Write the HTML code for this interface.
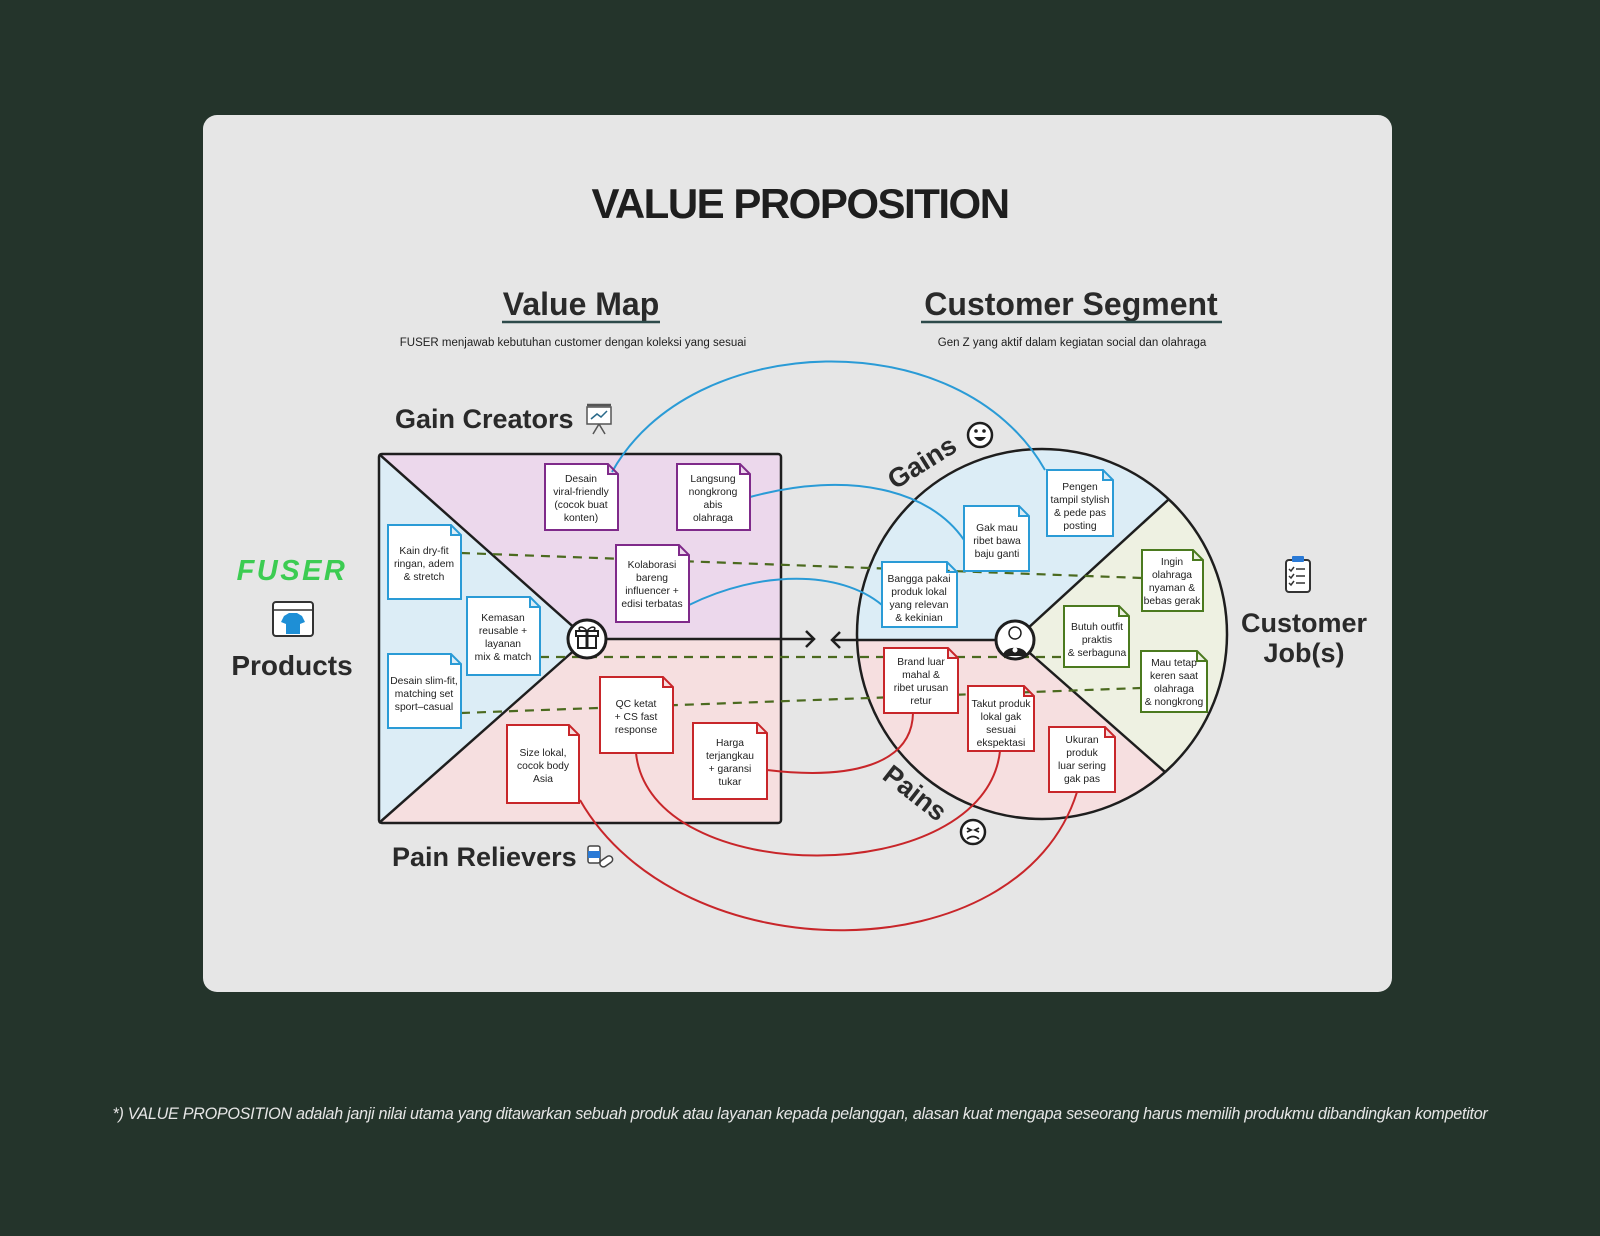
<!DOCTYPE html>
<html><head><meta charset="utf-8"><style>
html,body{margin:0;padding:0;background:#24342b;}
body{width:1600px;height:1236px;position:relative;overflow:hidden;font-family:"Liberation Sans",sans-serif;}
svg{position:absolute;left:0;top:0;}
</style></head><body>
<svg width="1600" height="1236" viewBox="0 0 1600 1236" font-family="Liberation Sans, sans-serif">
<rect x="203" y="115" width="1189" height="877" rx="14" fill="#e6e6e6"/>
<text x="800" y="218" text-anchor="middle" font-size="42" font-weight="bold" fill="#1e1e1e" letter-spacing="-1.5">VALUE PROPOSITION</text>
<text x="581" y="315" text-anchor="middle" font-size="32" font-weight="bold" fill="#2a2a2a">Value Map</text>
<line x1="502" y1="322" x2="660" y2="322" stroke="#2d4a4a" stroke-width="2.5"/>
<text x="1071" y="315" text-anchor="middle" font-size="32" font-weight="bold" fill="#2a2a2a">Customer Segment</text>
<line x1="921" y1="322" x2="1222" y2="322" stroke="#2d4a4a" stroke-width="2.5"/>
<text x="573" y="346" text-anchor="middle" font-size="11.5" fill="#1e1e1e">FUSER menjawab kebutuhan customer dengan koleksi yang sesuai</text>
<text x="1072" y="346" text-anchor="middle" font-size="11.5" fill="#1e1e1e">Gen Z yang aktif dalam kegiatan social dan olahraga</text>

<polygon points="379,454 781,454 781,639 587,639" fill="#ecd8ec"/>
<polygon points="379,454 587,639 379,823" fill="#dcedf6"/>
<polygon points="379,823 587,639 781,639 781,823" fill="#f6dfe0"/>
<rect x="379" y="454" width="402" height="369" rx="3" fill="none" stroke="#1e1e1e" stroke-width="2.5"/>
<line x1="379" y1="454" x2="587" y2="639" stroke="#1e1e1e" stroke-width="2.5"/>
<line x1="379" y1="823" x2="587" y2="639" stroke="#1e1e1e" stroke-width="2.5"/>
<line x1="587" y1="639" x2="814" y2="639" stroke="#1e1e1e" stroke-width="2.5"/>
<polyline points="806,631 814,639 806,647" fill="none" stroke="#1e1e1e" stroke-width="2.5"/>

<path d="M1015,640 L857,640 A185,185 0 0,1 1168,500 Z" fill="#dcedf6"/>
<path d="M1015,640 L1168,500 A185,185 0 0,1 1165,772 Z" fill="#eef1e2"/>
<path d="M1015,640 L1165,772 A185,185 0 0,1 857,640 Z" fill="#f6dfe0"/>
<circle cx="1042" cy="634" r="185" fill="none" stroke="#1e1e1e" stroke-width="2.5"/>
<line x1="832" y1="640" x2="1015" y2="640" stroke="#1e1e1e" stroke-width="2.5"/>
<polyline points="840,632 832,640 840,648" fill="none" stroke="#1e1e1e" stroke-width="2.5"/>
<line x1="1015" y1="640" x2="1168" y2="500" stroke="#1e1e1e" stroke-width="2.5"/>
<line x1="1015" y1="640" x2="1165" y2="772" stroke="#1e1e1e" stroke-width="2.5"/>

<g stroke="#4b6a1f" stroke-width="2.2" stroke-dasharray="9,7" fill="none">
<line x1="461" y1="553" x2="1142" y2="578"/>
<line x1="540" y1="657" x2="1064" y2="657"/>
<line x1="461" y1="713" x2="1141" y2="688"/>
</g>
<g stroke="#2a9bd6" stroke-width="2" fill="none">
<path d="M612,472 C690,330 960,320 1045,470"/>
<path d="M750,497 C850,470 930,490 964,540"/>
<path d="M689,605 C760,570 840,570 882,605"/>
</g>
<g stroke="#c8262a" stroke-width="2" fill="none">
<path d="M580,800 C680,975 1020,975 1077,792"/>
<path d="M636,753 C650,890 985,890 1000,751"/>
<path d="M767,770 C850,780 912,765 913,713"/>
</g>

<g stroke-width="2" fill="#fff" font-size="10.3" text-anchor="middle">
<g stroke="#7f2a8a">
<path d="M545,464 H608 L618,474 V530 H545 Z M608,464 V474 H618"/>
<path d="M677,464 H740 L750,474 V530 H677 Z M740,464 V474 H750"/>
<path d="M616,545 H679 L689,555 V622 H616 Z M679,545 V555 H689"/>
</g>
<g stroke="#2a9bd6">
<path d="M388,525 H451 L461,535 V599 H388 Z M451,525 V535 H461"/>
<path d="M467,597 H530 L540,607 V675 H467 Z M530,597 V607 H540"/>
<path d="M388,654 H451 L461,664 V728 H388 Z M451,654 V664 H461"/>
<path d="M1047,470 H1103 L1113,480 V536 H1047 Z M1103,470 V480 H1113"/>
<path d="M964,506 H1019 L1029,516 V571 H964 Z M1019,506 V516 H1029"/>
<path d="M882,562 H947 L957,572 V627 H882 Z M947,562 V572 H957"/>
</g>
<g stroke="#c8262a">
<path d="M600,677 H663 L673,687 V753 H600 Z M663,677 V687 H673"/>
<path d="M507,725 H569 L579,735 V803 H507 Z M569,725 V735 H579"/>
<path d="M693,723 H757 L767,733 V799 H693 Z M757,723 V733 H767"/>
<path d="M884,648 H948 L958,658 V713 H884 Z M948,648 V658 H958"/>
<path d="M968,686 H1024 L1034,696 V751 H968 Z M1024,686 V696 H1034"/>
<path d="M1049,727 H1105 L1115,737 V792 H1049 Z M1105,727 V737 H1115"/>
</g>
<g stroke="#4b7a1f">
<path d="M1142,550 H1193 L1203,560 V611 H1142 Z M1193,550 V560 H1203"/>
<path d="M1064,606 H1119 L1129,616 V667 H1064 Z M1119,606 V616 H1129"/>
<path d="M1141,651 H1197 L1207,661 V712 H1141 Z M1197,651 V661 H1207"/>
</g>
<g fill="#1e1e1e" stroke="none">
<text x="581" y="482">Desain</text><text x="581" y="495">viral-friendly</text><text x="581" y="508">(cocok buat</text><text x="581" y="521">konten)</text>
<text x="713" y="482">Langsung</text><text x="713" y="495">nongkrong</text><text x="713" y="508">abis</text><text x="713" y="521">olahraga</text>
<text x="652" y="568">Kolaborasi</text><text x="652" y="581">bareng</text><text x="652" y="594">influencer +</text><text x="652" y="607">edisi terbatas</text>
<text x="424" y="554">Kain dry-fit</text><text x="424" y="567">ringan, adem</text><text x="424" y="580">&amp; stretch</text>
<text x="503" y="621">Kemasan</text><text x="503" y="634">reusable +</text><text x="503" y="647">layanan</text><text x="503" y="660">mix &amp; match</text>
<text x="424" y="684">Desain slim-fit,</text><text x="424" y="697">matching set</text><text x="424" y="710">sport–casual</text>
<text x="636" y="707">QC ketat</text><text x="636" y="720">+ CS fast</text><text x="636" y="733">response</text>
<text x="543" y="756">Size lokal,</text><text x="543" y="769">cocok body</text><text x="543" y="782">Asia</text>
<text x="730" y="746">Harga</text><text x="730" y="759">terjangkau</text><text x="730" y="772">+ garansi</text><text x="730" y="785">tukar</text>
<text x="1080" y="490">Pengen</text><text x="1080" y="503">tampil stylish</text><text x="1080" y="516">&amp; pede pas</text><text x="1080" y="529">posting</text>
<text x="997" y="531">Gak mau</text><text x="997" y="544">ribet bawa</text><text x="997" y="557">baju ganti</text>
<text x="919" y="582">Bangga pakai</text><text x="919" y="595">produk lokal</text><text x="919" y="608">yang relevan</text><text x="919" y="621">&amp; kekinian</text>
<text x="1172" y="565">Ingin</text><text x="1172" y="578">olahraga</text><text x="1172" y="591">nyaman &amp;</text><text x="1172" y="604">bebas gerak</text>
<text x="1097" y="630">Butuh outfit</text><text x="1097" y="643">praktis</text><text x="1097" y="656">&amp; serbaguna</text>
<text x="1174" y="666">Mau tetap</text><text x="1174" y="679">keren saat</text><text x="1174" y="692">olahraga</text><text x="1174" y="705">&amp; nongkrong</text>
<text x="921" y="665">Brand luar</text><text x="921" y="678">mahal &amp;</text><text x="921" y="691">ribet urusan</text><text x="921" y="704">retur</text>
<text x="1001" y="707">Takut produk</text><text x="1001" y="720">lokal gak</text><text x="1001" y="733">sesuai</text><text x="1001" y="746">ekspektasi</text>
<text x="1082" y="743">Ukuran</text><text x="1082" y="756">produk</text><text x="1082" y="769">luar sering</text><text x="1082" y="782">gak pas</text>
</g>
</g>

<circle cx="587" cy="639" r="19" fill="#fff" stroke="#1e1e1e" stroke-width="3"/>
<rect x="578" y="635" width="18" height="13" fill="none" stroke="#1e1e1e" stroke-width="2"/>
<rect x="576" y="631" width="22" height="5" fill="#fff" stroke="#1e1e1e" stroke-width="2"/>
<line x1="587" y1="631" x2="587" y2="648" stroke="#1e1e1e" stroke-width="3"/>
<path d="M587,631 C582,624 576,628 581,631 M587,631 C592,624 598,628 593,631" fill="none" stroke="#1e1e1e" stroke-width="1.5"/>
<circle cx="1015" cy="640" r="19" fill="#fff" stroke="#1e1e1e" stroke-width="3"/>
<circle cx="1015" cy="633" r="6" fill="#fff" stroke="#1e1e1e" stroke-width="1.5"/>
<path d="M1003,656 C1003,645 1027,645 1027,656 Z" fill="#1e1e1e"/>
<circle cx="1015" cy="650" r="2.5" fill="#fff"/>

<text x="395" y="428" font-size="27" font-weight="bold" fill="#2a2a2a">Gain Creators</text>
<g stroke="#555" stroke-width="1.5" fill="#fff"><rect x="587" y="407" width="24" height="17"/><line x1="593" y1="434" x2="599" y2="424"/><line x1="605" y1="434" x2="599" y2="424"/><line x1="587" y1="405" x2="611" y2="405" stroke-width="2.5"/></g>
<polyline points="591,419 597,414 601,417 607,411" fill="none" stroke="#2a6a8a" stroke-width="1.5"/>
<text x="392" y="866" font-size="27" font-weight="bold" fill="#2a2a2a">Pain Relievers</text>
<rect x="588" y="846" width="12" height="17" rx="2" fill="#fff" stroke="#444" stroke-width="1.5"/>
<rect x="588" y="851" width="12" height="7" fill="#2a7ad6"/>
<rect x="599" y="858" width="14" height="7" rx="3.5" transform="rotate(-35 606 861)" fill="#fff" stroke="#444" stroke-width="1.5"/>

<text x="0" y="0" font-size="27" font-weight="bold" fill="#2a2a2a" transform="translate(895,490) rotate(-32)">Gains</text>
<circle cx="980" cy="435" r="12" fill="#fff" stroke="#1e1e1e" stroke-width="2.5"/>
<circle cx="976" cy="431" r="1.8" fill="#1e1e1e"/><circle cx="984" cy="431" r="1.8" fill="#1e1e1e"/>
<path d="M974,437 Q980,445 986,437 Z" fill="#1e1e1e"/>
<text x="0" y="0" font-size="27" font-weight="bold" fill="#2a2a2a" transform="translate(881,778) rotate(38)">Pains</text>
<circle cx="973" cy="832" r="12" fill="#fff" stroke="#1e1e1e" stroke-width="2.5"/>
<path d="M967,828 L971,830 L967,832 M979,828 L975,830 L979,832 M967,839 Q973,834 979,839" fill="none" stroke="#1e1e1e" stroke-width="1.8"/>

<text x="292" y="580" text-anchor="middle" font-size="29" font-weight="bold" font-style="italic" fill="#3ccc52" letter-spacing="2.5">FUSER</text>
<rect x="273" y="602" width="40" height="34" rx="3" fill="#fff" stroke="#333" stroke-width="2"/>
<line x1="273" y1="610" x2="313" y2="610" stroke="#333" stroke-width="1.5"/>
<path d="M284,616 L289,613 H297 L302,616 L305,622 L300,624 V634 H286 V624 L281,622 Z" fill="#1e8fd6"/>
<text x="292" y="675" text-anchor="middle" font-size="28" font-weight="bold" fill="#2a2a2a">Products</text>

<rect x="1286" y="560" width="24" height="32" rx="3" fill="#fff" stroke="#333" stroke-width="2"/>
<rect x="1292" y="556" width="12" height="6" rx="1" fill="#2a7ad6"/>
<g stroke="#333" stroke-width="1.5"><line x1="1296" y1="569" x2="1305" y2="569"/><line x1="1296" y1="576" x2="1305" y2="576"/><line x1="1296" y1="583" x2="1305" y2="583"/></g>
<g fill="none" stroke="#333" stroke-width="1.5"><polyline points="1289,569 1291,571 1294,567"/><polyline points="1289,576 1291,578 1294,574"/><polyline points="1289,583 1291,585 1294,581"/></g>
<text x="1304" y="632" text-anchor="middle" font-size="27" font-weight="bold" fill="#2a2a2a">Customer</text>
<text x="1304" y="662" text-anchor="middle" font-size="27" font-weight="bold" fill="#2a2a2a">Job(s)</text>

<text x="800" y="1119" text-anchor="middle" font-size="16.2" font-style="italic" fill="#e6e6e6" letter-spacing="-0.3">*) VALUE PROPOSITION adalah janji nilai utama yang ditawarkan sebuah produk atau layanan kepada pelanggan, alasan kuat mengapa seseorang harus memilih produkmu dibandingkan kompetitor</text>
</svg>
</body></html>
